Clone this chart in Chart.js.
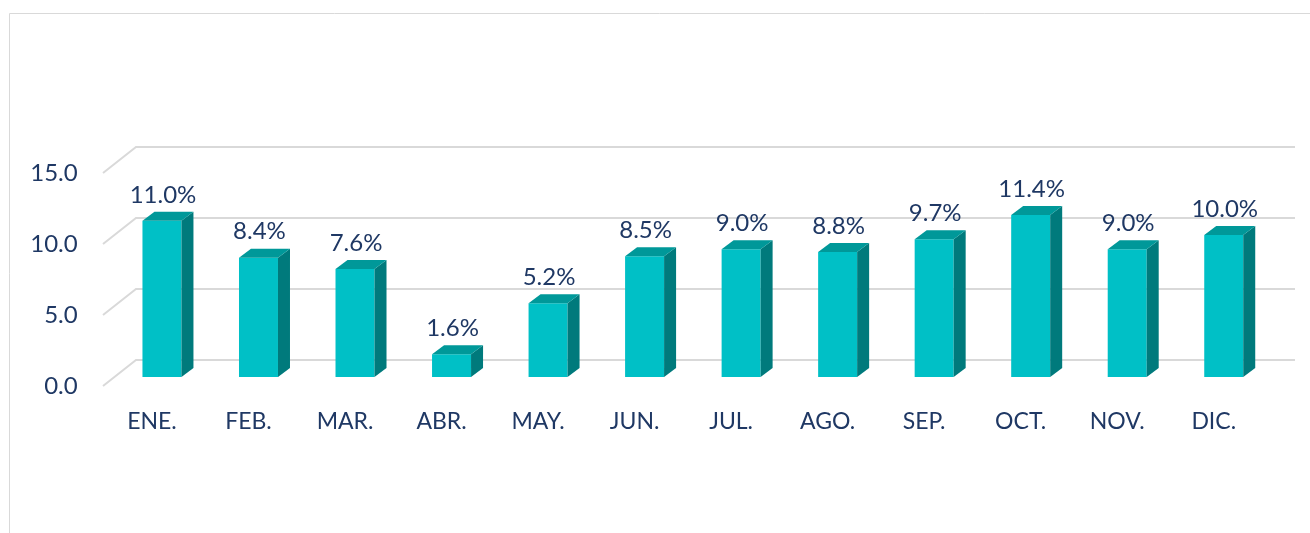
<!DOCTYPE html>
<html>
<head>
<meta charset="utf-8">
<script src="https://cdn.jsdelivr.net/npm/chart.js@4"></script>
<style>
  html, body { margin: 0; padding: 0; background: #fff; }
  canvas { display: block; }
</style>
</head>
<body>
<canvas id="monthlyChart" width="1310" height="533"></canvas>
<script>
const months = ["ENE.", "FEB.", "MAR.", "ABR.", "MAY.", "JUN.", "JUL.", "AGO.", "SEP.", "OCT.", "NOV.", "DIC."];
const rates = [11.0, 8.4, 7.6, 1.6, 5.2, 8.5, 9.0, 8.8, 9.7, 11.4, 9.0, 10.0];
const yTicks = [0, 5, 10, 15];

const textColor = "#1F3864";
const gridColor = "#D9D9D9";
const faceColor = "#00C0C6";
const sideColor = "#007A7C";
const topColor = "#009899";

const depthX = 12; // bar depth
const depthY = 9;

// back wall + side wall grid lines, drawn behind the bars
const wallGrid = {
    id: "wallGrid",
    beforeDraw(chart) {
        const ctx = chart.ctx;
        ctx.save();
        ctx.strokeStyle = gridColor;
        ctx.lineWidth = 1;
        ctx.beginPath();
        ctx.moveTo(9.5, 533);
        ctx.lineTo(9.5, 13.5);
        ctx.lineTo(1310, 13.5);
        ctx.stroke();
        ctx.restore();
    },
    beforeDatasetsDraw(chart) {
        const ctx = chart.ctx;
        const y = chart.scales.y;
        ctx.save();
        ctx.strokeStyle = gridColor;
        ctx.lineWidth = 2;
        yTicks.forEach(t => {
            const py = y.getPixelForValue(t);
            ctx.beginPath();
            ctx.moveTo(103, py + 9);
            ctx.lineTo(136, py - 17);
            ctx.lineTo(1295, py - 17);
            ctx.stroke();
        });
        ctx.restore();
    }
};

// side and top faces plus value labels
const bars3d = {
    id: "bars3d",
    afterDatasetsDraw(chart) {
        const ctx = chart.ctx;
        const meta = chart.getDatasetMeta(0);
        ctx.save();
        meta.data.forEach((bar, i) => {
            const p = bar.getProps(["x", "y", "base", "width"], true);
            const xl = p.x - p.width / 2;
            const xr = p.x + p.width / 2;

            ctx.fillStyle = sideColor;
            ctx.beginPath();
            ctx.moveTo(xr, p.y);
            ctx.lineTo(xr + depthX, p.y - depthY);
            ctx.lineTo(xr + depthX, p.base - depthY);
            ctx.lineTo(xr, p.base);
            ctx.closePath();
            ctx.fill();

            ctx.fillStyle = topColor;
            ctx.beginPath();
            ctx.moveTo(xl, p.y);
            ctx.lineTo(xl + depthX, p.y - depthY);
            ctx.lineTo(xr + depthX, p.y - depthY);
            ctx.lineTo(xr, p.y);
            ctx.closePath();
            ctx.fill();

            ctx.fillStyle = textColor;
            ctx.font = "24px Lato";
            ctx.textAlign = "center";
            ctx.textBaseline = "middle";
            ctx.fillText(rates[i].toFixed(1) + "%", p.x + 1, p.y - 26);
        });
        ctx.restore();
    }
};

new Chart(document.getElementById("monthlyChart"), {
    type: "bar",
    data: {
        labels: months,
        datasets: [{
            data: rates,
            backgroundColor: faceColor,
            borderWidth: 0,
            categoryPercentage: 1,
            barPercentage: 0.404
        }]
    },
    options: {
        responsive: false,
        animation: false,
        layout: {
            padding: { left: 0, top: 164, right: 38, bottom: 96 }
        },
        plugins: {
            legend: { display: false },
            tooltip: { enabled: false }
        },
        scales: {
            x: {
                grid: { display: false, drawTicks: false },
                border: { display: false },
                ticks: {
                    color: textColor,
                    font: { family: "Lato", size: 23 },
                    padding: 31,
                    labelOffset: -10,
                    maxRotation: 0,
                    autoSkip: false
                },
                afterFit: scale => { scale.height = 60; }
            },
            y: {
                min: 0,
                max: 15,
                grid: { display: false, drawTicks: false },
                border: { display: false },
                ticks: {
                    stepSize: 5,
                    color: textColor,
                    font: { family: "Lato", size: 24 },
                    padding: 36,
                    labelOffset: 9,
                    callback: v => v.toFixed(1)
                },
                afterFit: scale => { scale.width = 113.7; }
            }
        }
    },
    plugins: [wallGrid, bars3d]
});
</script>
</body>
</html>
